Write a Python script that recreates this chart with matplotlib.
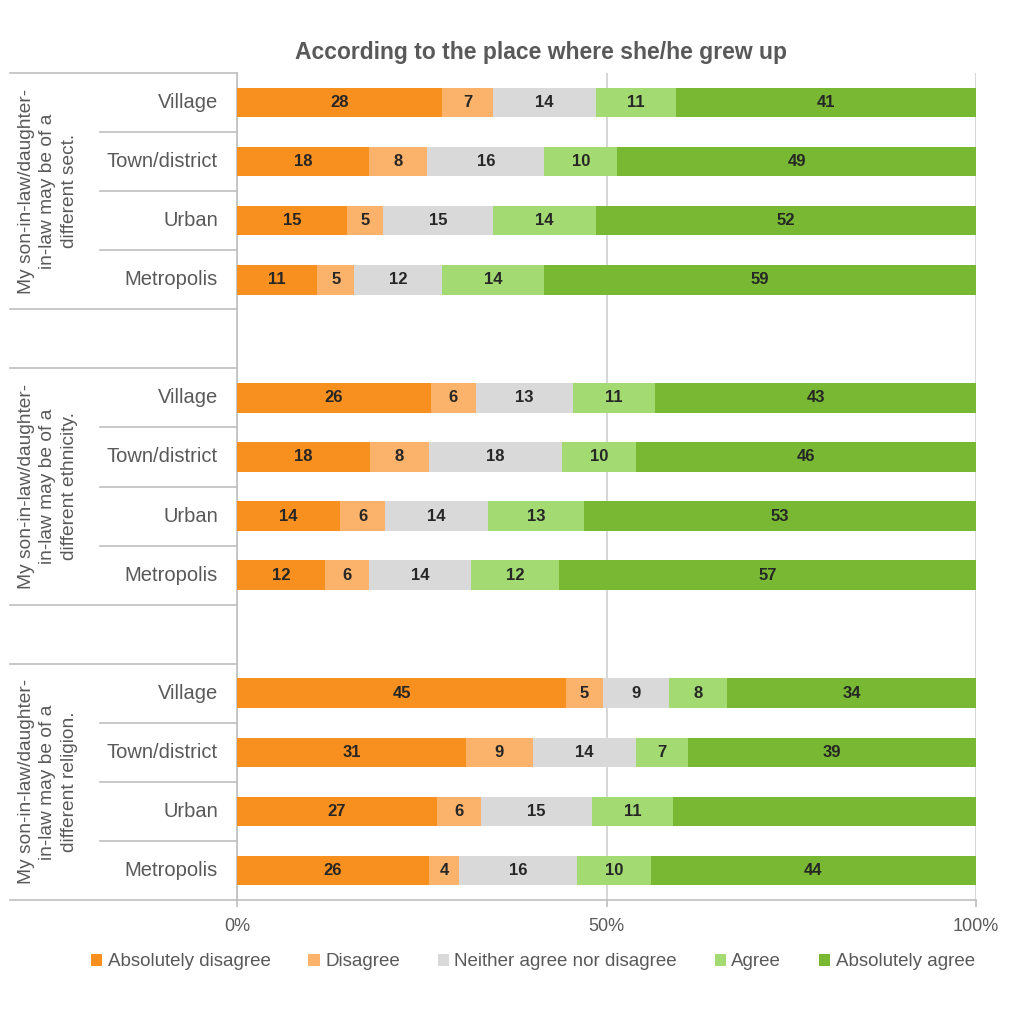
import matplotlib
matplotlib.use("Agg")
import matplotlib.pyplot as plt
import matplotlib.transforms as mtransforms
from matplotlib.patches import Patch
import numpy as np

plt.rcParams['font.family'] = ['Liberation Sans', 'DejaVu Sans']

title = "According to the place where she/he grew up"
groups = [
    "My son-in-law/daughter-\nin-law may be of a\ndifferent sect.",
    "My son-in-law/daughter-\nin-law may be of a\ndifferent ethnicity.",
    "My son-in-law/daughter-\nin-law may be of a\ndifferent religion.",
]
places = ["Village", "Town/district", "Urban", "Metropolis"]
series = ["Absolutely disagree", "Disagree", "Neither agree nor disagree", "Agree", "Absolutely agree"]

# rows: group-major, place-minor
absolutely_disagree = [28, 18, 15, 11, 26, 18, 14, 12, 45, 31, 27, 26]
disagree            = [7, 8, 5, 5, 6, 8, 6, 6, 5, 9, 6, 4]
neither             = [14, 16, 15, 12, 13, 18, 14, 14, 9, 14, 15, 16]
agree               = [11, 10, 14, 14, 11, 10, 13, 12, 8, 7, 11, 10]
absolutely_agree    = [41, 49, 52, 59, 43, 46, 53, 57, 34, 39, 41, 44]
hidden_labels = [(10, 4)]  # (row, series) labels not shown in the original

colors = ["#F7901E", "#FBB26A", "#D9D9D9", "#A3DA72", "#78B833"]

values = np.array([absolutely_disagree, disagree, neither, agree, absolutely_agree], dtype=float)
pct = values / values.sum(axis=0) * 100

fig = plt.figure(figsize=(10.24, 10.24), dpi=100)
W = H = 1024
ax = fig.add_axes([237 / W, 1 - 900 / H, (976 - 237) / W, (900 - 73) / H])

slots = [g * 5 + c for g in range(3) for c in range(4)]
left = np.zeros(len(slots))
for s in range(5):
    ax.barh(slots, pct[s], left=left, height=0.5, color=colors[s], label=series[s], zorder=3)
    for i, y in enumerate(slots):
        if (i, s) in hidden_labels:
            continue
        ax.text(left[i] + pct[s][i] / 2, y, f"{int(values[s][i])}", ha="center", va="center",
                fontsize=12, fontweight="bold", color="#262626", zorder=4)
    left += pct[s]

ax.set_xlim(0, 100)
ax.set_ylim(13.5, -0.5)
ax.set_xticks([0, 50, 100])
ax.set_xticklabels(["0%", "50%", "100%"])
ax.xaxis.grid(True, color="#D0D0D0", linewidth=1.2, zorder=0)
ax.set_yticks([])
for sp in ["top", "right"]:
    ax.spines[sp].set_visible(False)
for sp in ["left", "bottom"]:
    ax.spines[sp].set_color("#BFBFBF")
    ax.spines[sp].set_linewidth(1.2)
ax.tick_params(axis="x", colors="#BFBFBF", labelcolor="#595959", labelsize=13, length=5, width=1.2, pad=8)

trans = mtransforms.blended_transform_factory(ax.transAxes, ax.transData)
x_far = (10 - 237) / (976 - 237)
x_near = (100 - 237) / (976 - 237)
x_lab = (218 - 237) / (976 - 237)
x_grp = (48 - 237) / (976 - 237)
line_kw = dict(color="#BFBFBF", linewidth=1.2, clip_on=False, transform=trans)
for g in range(3):
    top = g * 5 - 0.5
    bot = g * 5 + 3.5
    ax.plot([x_far, 0], [top, top], **line_kw)
    ax.plot([x_far, 0], [bot, bot], **line_kw)
    for c in range(1, 4):
        yy = g * 5 + c - 0.5
        ax.plot([x_near, 0], [yy, yy], **line_kw)
    for c, p in enumerate(places):
        ax.text(x_lab, g * 5 + c, p, transform=trans, ha="right", va="center",
                fontsize=14.5, color="#595959")
    ax.text(x_grp, g * 5 + 1.5, groups[g], transform=trans, ha="center", va="center",
            rotation=90, fontsize=13.8, color="#595959", linespacing=1.35, multialignment="center")

fig.text(541 / W, 1 - 53 / H, title, ha="center", va="center", fontsize=16.5,
         fontweight="bold", color="#595959")

handles = [Patch(facecolor=c, edgecolor="none") for c in colors]
fig.legend(handles, series, loc="center", bbox_to_anchor=(533 / W, 1 - 962 / H), ncol=5,
           frameon=False, fontsize=13.5, handlelength=0.6, handleheight=0.6, handletextpad=0.3,
           columnspacing=2.0, labelcolor="#595959")

fig.savefig("out.png", dpi=100)
